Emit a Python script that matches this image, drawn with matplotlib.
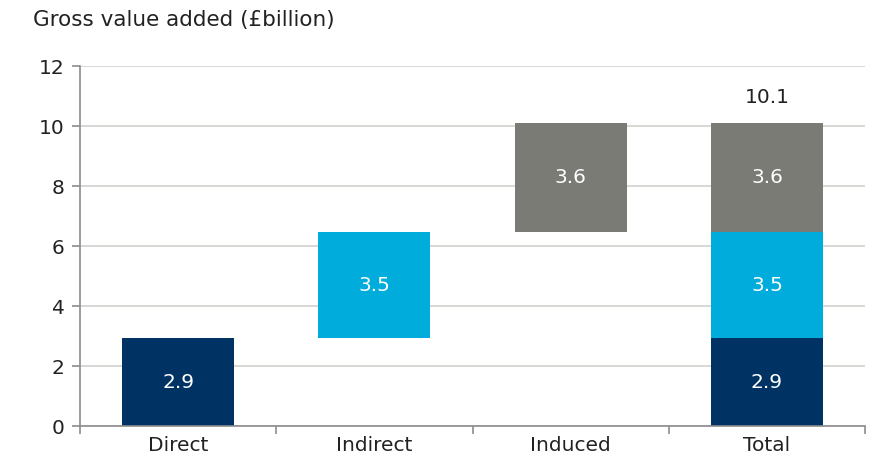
import matplotlib
matplotlib.use("Agg")
import matplotlib.pyplot as plt
import numpy as np

categories = ["Direct", "Indirect", "Induced", "Total"]
components = ["Direct", "Indirect", "Induced"]
values = [2.93, 3.53, 3.64]
colors = ["#003263", "#00acdc", "#7a7b75"]
y_ticks = [0, 2, 4, 6, 8, 10, 12]
ylabel_text = "Gross value added (£billion)"

plt.rcParams['font.family'] = ['DejaVu Sans']

fig = plt.figure(figsize=(8.87, 4.66), dpi=100)
ax = fig.add_axes([0.0902, 0.0858, 0.885, 0.7725])

x = np.arange(len(categories))
width = 0.57
cum = np.concatenate([[0], np.cumsum(values)])
total = cum[-1]

fs = 14.5
for i, (v, c) in enumerate(zip(values, colors)):
    # waterfall bar
    ax.bar(x[i], v, bottom=cum[i], width=width, color=c, zorder=3)
    ax.text(x[i], cum[i] + v / 2, f"{v:.1f}", ha="center", va="center",
            color="white", fontsize=fs, zorder=4)
    # stacked total
    ax.bar(x[3], v, bottom=cum[i], width=width, color=c, zorder=3)
    ax.text(x[3], cum[i] + v / 2, f"{v:.1f}", ha="center", va="center",
            color="white", fontsize=fs, zorder=4)

ax.text(x[3], total + 0.55, f"{total:.1f}", ha="center", va="bottom",
        color="#222222", fontsize=fs)

ax.set_xlim(-0.5, 3.5)
ax.set_ylim(0, 12)
ax.set_yticks(y_ticks)
ax.set_xticks(x)
ax.set_xticklabels(categories)
ax.set_xticks(np.arange(-0.5, 4.0, 1.0), minor=True)
ax.tick_params(axis="x", which="major", length=0, pad=7, labelsize=fs, colors="#222222")
ax.tick_params(axis="x", which="minor", length=6, width=1.2, color="#8c8c8c")
ax.tick_params(axis="y", length=6, width=1.2, color="#8c8c8c", labelsize=fs,
               labelcolor="#222222", pad=5)

ax.grid(axis="y", color="#d3d1cc", linewidth=1.2, zorder=0)
for s in ["top", "right"]:
    ax.spines[s].set_visible(False)
for s in ["left", "bottom"]:
    ax.spines[s].set_color("#8c8c8c")
    ax.spines[s].set_linewidth(1.2)
    ax.spines[s].set_zorder(5)

fig.text(33 / 887, 1 - 20 / 466, ylabel_text, ha="left", va="center",
         fontsize=15.5, color="#222222")

fig.savefig("out.png", dpi=100)
